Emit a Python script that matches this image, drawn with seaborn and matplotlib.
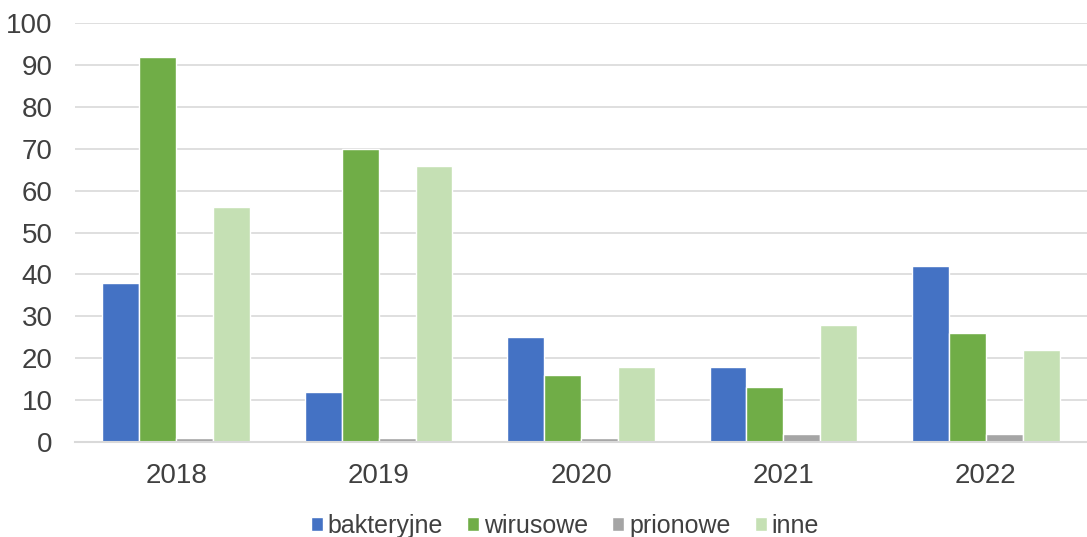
import numpy as np
import pandas as pd
import matplotlib
matplotlib.use("Agg")
import matplotlib.pyplot as plt
import seaborn as sns

years = ["2018", "2019", "2020", "2021", "2022"]
series = ["bakteryjne", "wirusowe", "prionowe", "inne"]
bakteryjne = [38, 12, 25, 18, 42]
wirusowe = [92, 70, 16, 13, 26]
prionowe = [1, 1, 1, 2, 2]
inne = [56, 66, 18, 28, 22]
colors = ["#4472C4", "#70AD47", "#A5A5A5", "#C5E0B4"]

df = pd.DataFrame({
    "rok": years * 4,
    "typ": np.repeat(series, len(years)),
    "liczba": bakteryjne + wirusowe + prionowe + inne,
})

sns.set_theme(style="white")
plt.rcParams["font.family"] = ["Liberation Sans", "DejaVu Sans"]
TXT = "#404040"

fig, ax = plt.subplots(figsize=(10.87, 5.37), dpi=100)
fig.subplots_adjust(left=0.069, right=1.0, top=0.957, bottom=0.177)

sns.barplot(data=df, x="rok", y="liczba", hue="typ", palette=colors,
            width=0.73, gap=0, saturation=1, ax=ax, legend=True)

ax.set_ylim(0, 100)
ax.set_yticks(range(0, 101, 10))
ax.set_xlim(-0.5, 4.5)
ax.yaxis.grid(True, color="#D9D9D9", linewidth=1.2)
ax.set_axisbelow(True)
for s in ["top", "right", "left"]:
    ax.spines[s].set_visible(False)
ax.spines["bottom"].set_color("#D9D9D9")
ax.spines["bottom"].set_linewidth(1.5)
ax.tick_params(axis="both", length=0, labelsize=20, colors=TXT)
ax.tick_params(axis="x", pad=15)
ax.tick_params(axis="y", pad=16)
ax.set_xlabel("")
ax.set_ylabel("")

# legend sits low under the axis, as in the source chart
handles, labels = ax.get_legend_handles_labels()
ax.legend(handles, labels, loc="lower center", bbox_to_anchor=(0.484, -0.282),
          ncol=4, frameon=False, fontsize=18, labelcolor=TXT,
          handlelength=0.48, handleheight=0.48, handletextpad=0.2,
          columnspacing=0.96)

fig.savefig("out.png", dpi=100)
